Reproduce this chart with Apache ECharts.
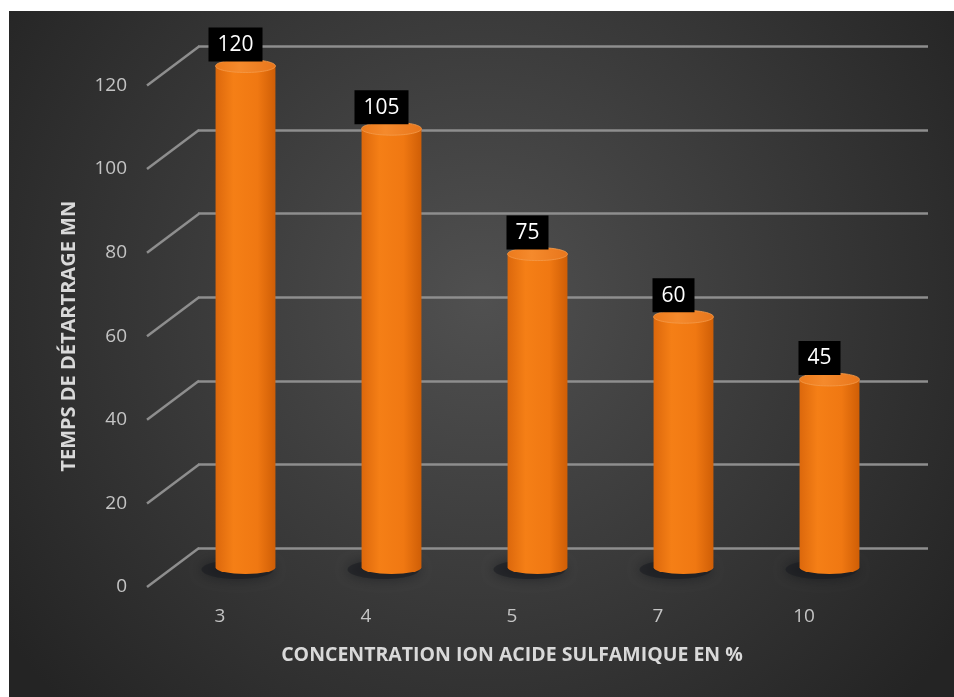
<!DOCTYPE html>
<html><head><meta charset="utf-8">
<script src="https://cdn.jsdelivr.net/npm/echarts@6/dist/echarts.min.js"></script>
<style>html,body{margin:0;padding:0;background:#fff}#c{width:954px;height:697px}</style>
</head><body><div id="c"></div>
<script>
const categories = ['3', '4', '5', '7', '10'];
const values = [120, 105, 75, 60, 45];
const yTicks = [0, 20, 40, 60, 80, 100, 120];
const xTitle = 'CONCENTRATION ION ACIDE SULFAMIQUE EN %';
const yTitle = 'TEMPS DE DÉTARTRAGE MN';

const chart = echarts.init(document.getElementById('c'), null, {renderer: 'canvas'});
const DX = -51, DY = 39;
const FONT = 'Open Sans';
const GRIDC = '#8e8e8e';

const option = {
  backgroundColor: '#ffffff',
  animation: false,
  graphic: [{
    type: 'rect', left: 9, top: 11, z: -100,
    shape: {width: 945, height: 686},
    style: {fill: new echarts.graphic.RadialGradient(0.5, 0.42, 0.85, [
      {offset: 0, color: '#505050'}, {offset: 1, color: '#242424'}])}
  }],
  grid: [
    {left: 198, top: 46.5, width: 730, height: 501.5},
    {left: 147, top: 85.5, width: 730, height: 501.5},
    {left: 172.5, top: 66, width: 730, height: 501.5}
  ],
  xAxis: [
    {gridIndex: 0, type: 'category', data: categories, show: false},
    {gridIndex: 1, type: 'category', data: categories,
     axisLine: {show: false}, axisTick: {show: false},
     axisLabel: {color: '#c4c4c4', fontSize: 19, fontFamily: FONT, margin: 20},
     name: xTitle, nameLocation: 'middle', nameGap: 58,
     nameTextStyle: {color: '#d9d9d9', fontSize: 19.5, fontWeight: 'bold', fontFamily: FONT}},
    {gridIndex: 2, type: 'category', data: categories, show: false}
  ],
  yAxis: [
    {gridIndex: 0, type: 'value', min: 0, max: 120, interval: 20,
     axisLine: {show: false}, axisTick: {show: false}, axisLabel: {show: false},
     splitLine: {lineStyle: {color: GRIDC, width: 2.5}}},
    {gridIndex: 1, type: 'value', min: 0, max: 120, interval: 20,
     axisLine: {show: false}, axisTick: {show: false}, splitLine: {show: false},
     axisLabel: {color: '#c4c4c4', fontSize: 19, fontFamily: FONT, margin: 20},
     name: yTitle, nameLocation: 'middle', nameGap: 68, nameRotate: 90,
     nameTextStyle: {color: '#d9d9d9', fontSize: 20, fontWeight: 'bold', fontFamily: FONT}},
    {gridIndex: 2, type: 'value', min: 0, max: 120, show: false, splitLine: {show: false}}
  ],
  series: [
    {
      type: 'custom', xAxisIndex: 0, yAxisIndex: 0,
      data: yTicks.map(v => [0, v]),
      encode: {x: 0, y: 1},
      renderItem: function (params, api) {
        const y = api.coord([0, api.value(1)])[1];
        const x0 = params.coordSys.x;
        return {type: 'line', shape: {x1: x0 + 1, y1: y, x2: x0 + DX, y2: y + DY},
                style: {stroke: GRIDC, lineWidth: 2.5}};
      }
    },
    {
      type: 'custom', xAxisIndex: 2, yAxisIndex: 2,
      data: values.map((v, i) => [i, v]),
      encode: {x: 0, y: 1},
      renderItem: function (params, api) {
        const idx = api.value(0), v = api.value(1);
        const top = api.coord([idx, v]);
        const base = api.coord([idx, 0]);
        const w = api.size([1, 0])[0] * 0.41;
        const rx = w / 2, ry = 6.5;
        const cx = top[0];
        const grad = new echarts.graphic.LinearGradient(0, 0, 1, 0, [
          {offset: 0, color: '#dc680c'}, {offset: 0.3, color: '#f57f16'},
          {offset: 0.7, color: '#f07812'}, {offset: 1, color: '#cf5e06'}]);
        const topGrad = new echarts.graphic.LinearGradient(0, 0, 1, 0, [
          {offset: 0, color: '#ec7a1c'}, {offset: 0.4, color: '#f58a2c'},
          {offset: 1, color: '#e8761c'}]);
        return {
          type: 'group',
          children: [
            {type: 'ellipse', shape: {cx: cx - 8, cy: base[1] + 2, rx: rx + 6, ry: ry + 3},
             style: {fill: 'rgba(25,28,32,0.55)', shadowBlur: 12, shadowColor: 'rgba(10,12,16,0.8)'}},
            {type: 'path',
             shape: {pathData: 'M ' + (cx - rx) + ' ' + top[1] + ' L ' + (cx - rx) + ' ' + base[1] +
               ' A ' + rx + ' ' + ry + ' 0 0 0 ' + (cx + rx) + ' ' + base[1] +
               ' L ' + (cx + rx) + ' ' + top[1] + ' Z'},
             style: {fill: grad}},
            {type: 'ellipse', shape: {cx: cx, cy: top[1], rx: rx, ry: ry},
             style: {fill: topGrad, stroke: '#f49a4a', lineWidth: 0.8}},
            {type: 'text', x: cx - 10, y: top[1] - ry + 2,
             style: {text: String(v), fill: '#ffffff', font: '21px "Open Sans"',
                     backgroundColor: '#000000', padding: [7, 9, 6, 9],
                     align: 'center', verticalAlign: 'bottom'}}
          ]
        };
      }
    }
  ]
};
chart.setOption(option);
</script></body></html>
